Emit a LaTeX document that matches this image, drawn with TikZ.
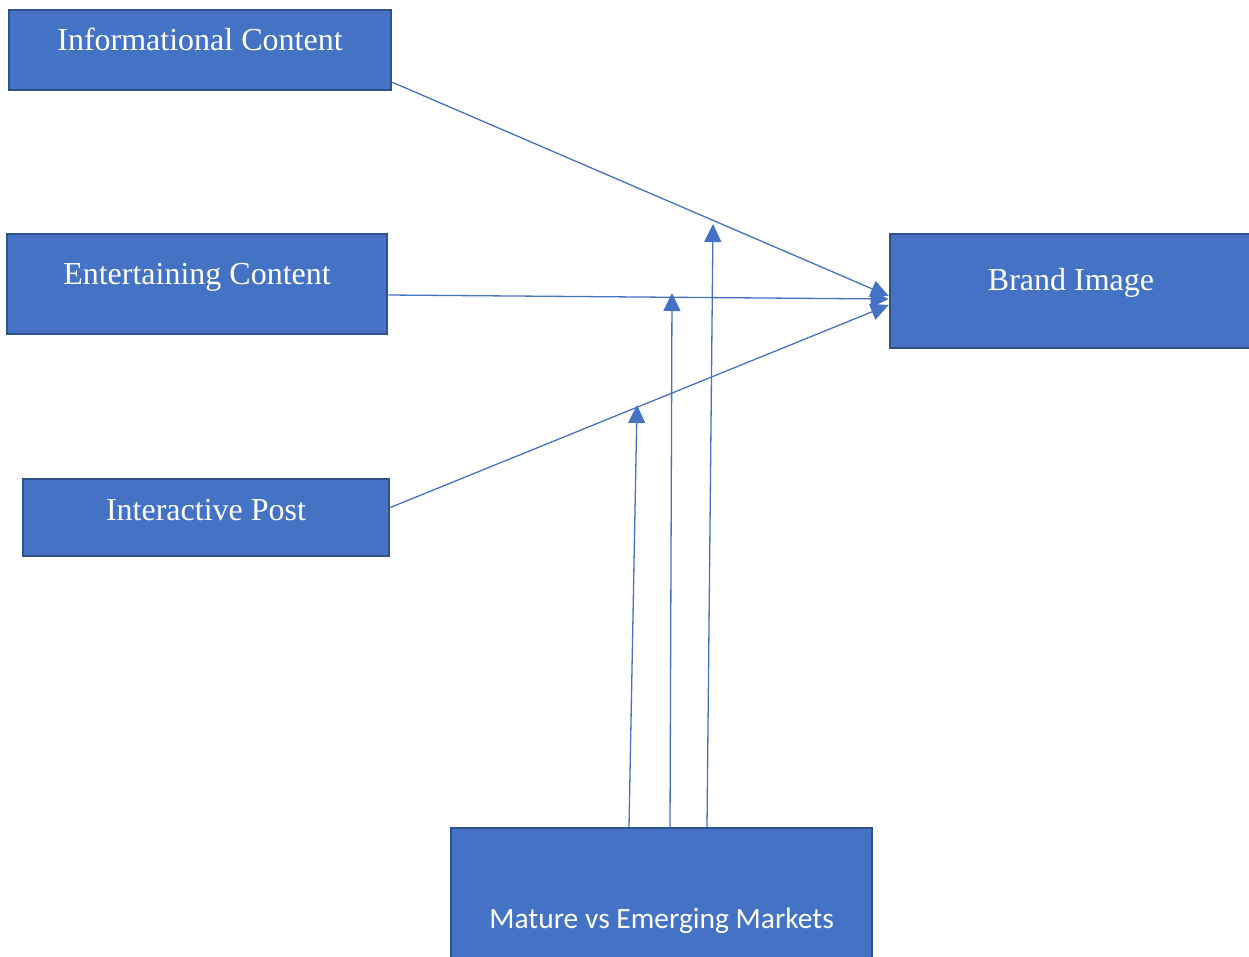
\documentclass[tikz,border=0pt]{standalone}
\usepackage{fontspec}
\setmainfont{Liberation Serif}
\newfontfamily\calfont{Carlito}
\usetikzlibrary{arrows.meta}
\definecolor{boxfill}{HTML}{4472C4}
\definecolor{boxline}{HTML}{2F528F}
\definecolor{linkcol}{HTML}{4472C4}
\tikzset{
  box/.style={draw=boxline, line width=2.5pt, fill=boxfill, inner sep=0pt, rectangle},
  lbl/.style={text=white, anchor=base, inner sep=0pt, font=\fontsize{32}{37}\selectfont},
  lblsans/.style={text=white, anchor=base, inner sep=0pt, font=\calfont\fontsize{29.5}{34}\selectfont},
  link/.style={draw=linkcol, line width=1.3pt, -{Triangle[length=18pt,width=17pt]}}
}
\begin{document}
\begin{tikzpicture}[x=1pt,y=-1pt]
\useasboundingbox (0,0) rectangle (1249,956);
% boxes
\node[box, minimum width=382pt, minimum height=80pt] (info) at (200,50) {};
\node[box, minimum width=380pt, minimum height=100pt] (ent) at (197,284) {};
\node[box, minimum width=366pt, minimum height=77pt] (inter) at (206,517.5) {};
\node[box, minimum width=362pt, minimum height=114pt] (brand) at (1071,291) {};
\node[box, minimum width=421pt, minimum height=150pt] (mkt) at (661.5,903) {};
% labels
\node[lbl] (infoT) at (200,50) {Informational Content};
\node[lbl] (entT) at (197,284) {Entertaining Content};
\node[lbl] (interT) at (206,520) {Interactive Post};
\node[lbl] (brandT) at (1071,290) {Brand Image};
\node[lblsans] (mktT) at (661.5,928) {Mature vs Emerging Markets};
% arrow end points of moderating links
\coordinate (m1) at (637,405);
\coordinate (m2) at (672,293);
\coordinate (m3) at (713,224);
% links
\draw[link] ([yshift=9pt]info.south east) -- ([yshift=-5pt]brand.west);
\draw[link] ([yshift=-11pt]ent.east) -- ([yshift=-8pt]brand.west);
\draw[link] ([yshift=10pt]inter.east) -- ([yshift=-14pt]brand.west);
\draw[link] ([xshift=-32.5pt]mkt.north) -- (m1);
\draw[link] ([xshift=8.5pt]mkt.north) -- (m2);
\draw[link] ([xshift=45.5pt]mkt.north) -- (m3);
\end{tikzpicture}
\end{document}
